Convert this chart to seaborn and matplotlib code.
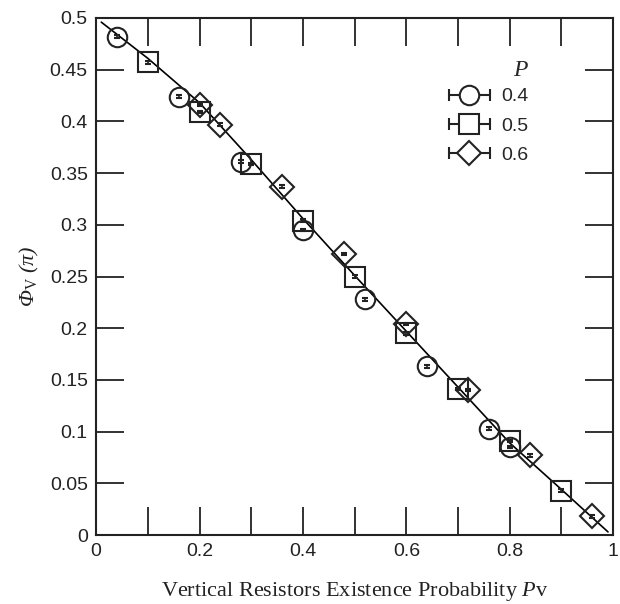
import numpy as np
import pandas as pd
import seaborn as sns
import matplotlib
matplotlib.use("Agg")
import matplotlib.pyplot as plt
from matplotlib.lines import Line2D
from matplotlib.legend_handler import HandlerLine2D, HandlerTuple

# ---- data ----
pv_04 = [0.04, 0.16, 0.28, 0.40, 0.52, 0.64, 0.76, 0.80]
phi_04 = [0.482, 0.424, 0.361, 0.295, 0.228, 0.163, 0.103, 0.085]
pv_05 = [0.1, 0.2, 0.3, 0.4, 0.5, 0.6, 0.7, 0.8, 0.9]
phi_05 = [0.457, 0.409, 0.359, 0.304, 0.250, 0.195, 0.141, 0.091, 0.043]
pv_06 = [0.20, 0.24, 0.36, 0.48, 0.60, 0.72, 0.84, 0.96]
phi_06 = [0.416, 0.397, 0.337, 0.272, 0.204, 0.140, 0.077, 0.018]
err = 0.0012
fit_x = [0.01, 0.1, 0.2, 0.3, 0.4, 0.5, 0.6, 0.7, 0.8, 0.9, 0.99]
fit_y = [0.496, 0.461, 0.418, 0.363, 0.306, 0.251, 0.197, 0.143, 0.089, 0.044, 0.003]
series_labels = ["0.4", "0.5", "0.6"]
markers = ["o", "s", "D"]
msizes = [14, 14, 12]

sns.set_theme(style="ticks")
plt.rcParams["font.family"] = ["Liberation Sans", "DejaVu Sans"]
plt.rcParams["mathtext.fontset"] = "custom"
plt.rcParams["mathtext.rm"] = "Liberation Serif"
plt.rcParams["mathtext.it"] = "Liberation Serif:italic"
plt.rcParams["mathtext.bf"] = "Liberation Serif:bold"

fig = plt.figure(figsize=(6.2, 6.04), dpi=100)
ax = fig.add_axes([0.155, 0.1142, 0.834, 0.856])

fit_df = pd.DataFrame({"x": fit_x, "y": fit_y})
sns.lineplot(data=fit_df, x="x", y="y", ax=ax, color="black", lw=1.2, sort=True)

handles = []
hmap = {}
for xs, ys, lab, mk, ms in zip([pv_04, pv_05, pv_06], [phi_04, phi_05, phi_06],
                               series_labels, markers, msizes):
    ax.errorbar(xs, ys, yerr=err, fmt=mk, ms=ms, mfc="none", mec="#222222",
                mew=1.5, ecolor="#222222", elinewidth=1.2, capsize=2, capthick=1.8)
    cap = Line2D([], [], color="#222222", lw=1.5, marker="|", ms=9, mew=1.5)
    mark = Line2D([], [], color="#222222", ls="none", marker=mk, ms=ms,
                  mfc="white", mec="#222222", mew=1.5)
    hmap[cap] = HandlerLine2D(numpoints=2)
    handles.append((cap, mark))
hmap[tuple] = HandlerTuple(ndivide=1)

leg = ax.legend(handles, series_labels, handler_map=hmap,
                title="$P$", loc="upper right", bbox_to_anchor=(0.87, 0.955),
                frameon=False, fontsize=14, title_fontsize=17,
                handlelength=2.7, labelspacing=0.6, handletextpad=0.3)
leg._legend_box.align = "right"
leg._legend_box.sep = 5

ax.set_xlim(0, 1)
ax.set_ylim(0, 0.5)
ax.set_xticks(np.arange(0, 1.01, 0.1))
ax.set_xticklabels(["0", "", "0.2", "", "0.4", "", "0.6", "", "0.8", "", "1"])
ax.set_yticks(np.arange(0, 0.501, 0.05))
ax.set_yticklabels(["0", "0.05", "0.1", "0.15", "0.2", "0.25", "0.3", "0.35",
                    "0.4", "0.45", "0.5"])
ax.tick_params(direction="in", length=20, width=1.3, top=True, right=True,
               labelsize=14, colors="#222222", labelcolor="#222222", pad=6)
for s in ax.spines.values():
    s.set_linewidth(1.5)
    s.set_color("#222222")
    s.set_visible(True)

ax.set_xlabel(r"Vertical Resistors Existence Probability $P$v",
              family="Liberation Serif", fontsize=16, color="#222222", labelpad=14)
ax.set_ylabel(r"Φ$_{\mathrm{V}}$ ($\mathit{π}$)", family="Liberation Serif",
              style="italic", fontsize=16, color="#222222", labelpad=6)

fig.savefig("out.png", dpi=100)
